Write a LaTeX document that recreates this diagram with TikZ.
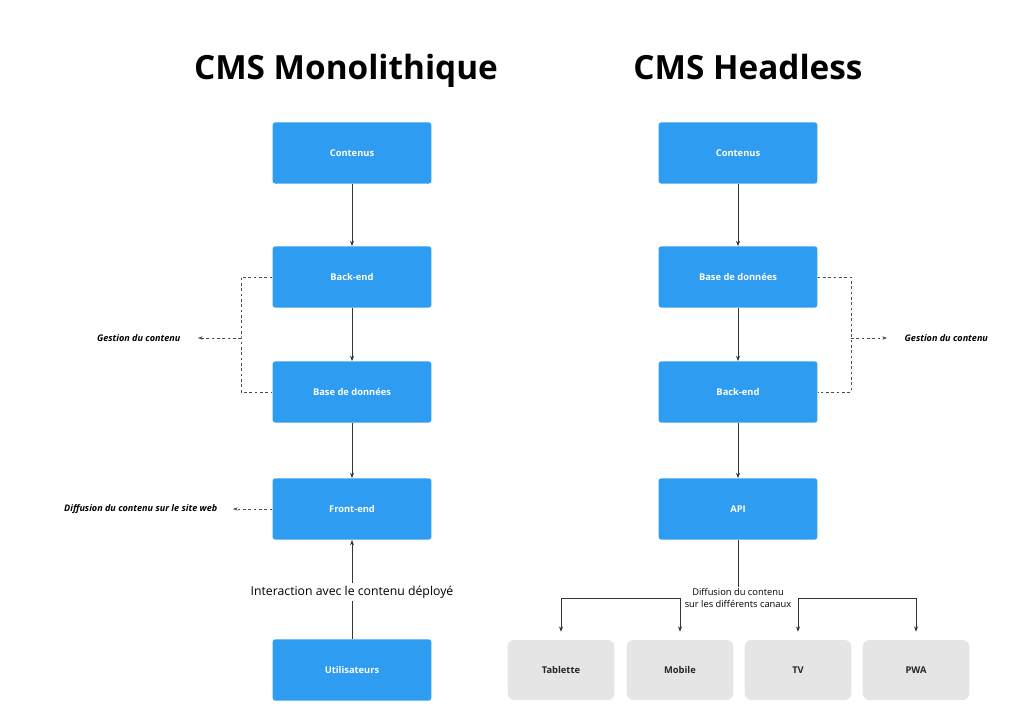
\documentclass[tikz,border=0pt]{standalone}
\usepackage{fontspec}
\setmainfont{Open Sans}
\usetikzlibrary{arrows.meta,calc}
\definecolor{bl}{HTML}{2E9CF0}
\definecolor{gr}{HTML}{E5E5E5}
\begin{document}
\begin{tikzpicture}[x=0.75pt,y=-0.75pt,
 box/.style={fill=bl,rounded corners=2pt,minimum width=119pt,minimum height=46pt,text=white,font=\fontsize{7}{8}\selectfont\bfseries,inner sep=0},
 gbox/.style={fill=gr,rounded corners=5pt,minimum width=80pt,minimum height=45pt,text=black!85,font=\fontsize{7}{8}\selectfont\bfseries,inner sep=0},
 ar/.style={-{Stealth[length=4pt,width=3pt]},black!80,line width=0.5pt},
 da/.style={black!70,line width=0.4pt,dash pattern=on 2pt off 2pt},
 lab/.style={font=\fontsize{6.8}{8}\selectfont\bfseries\itshape},
 title/.style={font=\fontsize{25}{28}\selectfont\bfseries,anchor=base}]
\useasboundingbox (0,0) rectangle (1024,727);
\node[title] (t1) at (346,80) {CMS Monolithique};
\node[title] (t2) at (748,80) {CMS Headless};
% left
\node[box] (lc) at (352,153) {Contenus};
\node[box] (lb) at (352,277) {Back-end};
\node[box] (ld) at (352,392) {Base de données};
\node[box] (lf) at (352,509) {Front-end};
\node[box] (lu) at (352,670) {Utilisateurs};
\draw[ar] (lc) -- (lb);
\draw[ar] (lb) -- (ld);
\draw[ar] (ld) -- (lf);
\node[fill=white,font=\fontsize{9.2}{10}\selectfont,inner sep=2pt] (li) at (352,592) {Interaction avec le contenu déployé};
\draw[black!80,line width=0.5pt] (lu) -- (li);
\draw[ar] (li) -- (lf);
\coordinate (lm) at (241,338);
\draw[da] (lb.west) -| (lm) |- (ld.west);
\node[lab,anchor=east] (lg) at (185,338) {Gestion du contenu};
\coordinate (lga) at (198,338);
\draw[da,-{Stealth[length=3.5pt,width=2.5pt]}] (lm) -- (lga);
\node[lab,anchor=east] (lw) at (222,509) {Diffusion du contenu sur le site web};
\coordinate (lwa) at (233,509);
\draw[da,-{Stealth[length=3.5pt,width=2.5pt]}] (lf.west) -- (lwa);
% right
\node[box] (rc) at (738,153) {Contenus};
\node[box] (rd) at (738,277) {Base de données};
\node[box] (rb) at (738,392) {Back-end};
\node[box] (ra) at (738,509) {API};
\draw[ar] (rc) -- (rd);
\draw[ar] (rd) -- (rb);
\draw[ar] (rb) -- (ra);
\coordinate (rm) at (851,338);
\draw[da] (rd.east) -| (rm) |- (rb.east);
\node[lab,anchor=west] (rg) at (900,338) {Gestion du contenu};
\coordinate (rga) at (887,338);
\draw[da,-{Stealth[length=3.5pt,width=2.5pt]}] (rm) -- (rga);
\node[gbox] (g1) at (561,670) {Tablette};
\node[gbox] (g2) at (680,670) {Mobile};
\node[gbox] (g3) at (798,670) {TV};
\node[gbox] (g4) at (916,670) {PWA};
\coordinate (c1) at (561,598); \coordinate (c2) at (680,598);
\coordinate (c3) at (798,598); \coordinate (c4) at (916,598);
\draw[black!80,line width=0.5pt] (c1) -- (c2) (c3) -- (c4);
\node[fill=white,align=center,font=\fontsize{7}{8.5}\selectfont,inner sep=1pt] (rl) at (738,598) {Diffusion du contenu\\sur les différents canaux};
\draw[black!80,line width=0.5pt] (ra) -- (rl);
\draw[ar] (c1) -- ($(g1.north)+(0,-8)$);
\draw[ar] (c2) -- ($(g2.north)+(0,-8)$);
\draw[ar] (c3) -- ($(g3.north)+(0,-8)$);
\draw[ar] (c4) -- ($(g4.north)+(0,-8)$);
\end{tikzpicture}
\end{document}
